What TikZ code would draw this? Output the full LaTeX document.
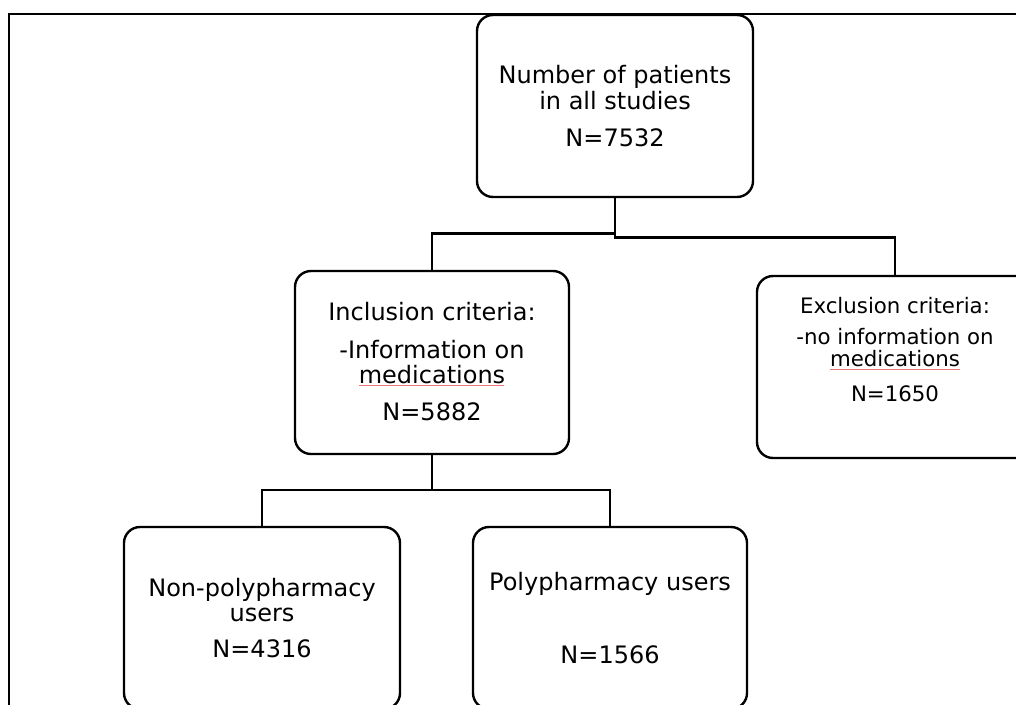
\documentclass[tikz,border=0pt]{standalone}
\usepackage{fontspec}
\setmainfont{DejaVu Sans}
\definecolor{spellred}{RGB}{236,120,120}
\newcommand{\boxtext}[4]{\parbox[c][#1pt][t]{#2pt}{\vspace*{#3pt}\centering #4\par}}
\begin{document}
\begin{tikzpicture}[x=1pt,y=-1pt,
  flowbox/.style={draw, line width=2.4pt, rounded corners=16pt, inner sep=0pt, outer sep=0pt,
    font=\fontsize{24}{26}\selectfont},
  smallbox/.style={flowbox, font=\fontsize{21.3}{23}\selectfont},
  link/.style={draw, line width=2.4pt},
  frameline/.style={draw, line width=1.8pt},
  spell/.style={draw=spellred, line width=0.9pt}]
\useasboundingbox (0,0) rectangle (1016,704);
% outer frame
\draw[frameline] (1017,14.3) -- (9,14.3) -- (9,705);
% boxes
\node[flowbox] (top) at (615,106) {\boxtext{182}{276}{48.3}{\rule{0pt}{20pt}Number of patients\\ in all studies\\[11.2pt] N=7532}};
\node[flowbox] (incl) at (432,362.5) {\boxtext{183}{274}{29.5}{\rule{0pt}{20pt}Inclusion criteria:\\[11.5pt] -Information on\\[-0.7pt] medications\\[11.2pt] N=5882}};
\node[smallbox] (excl) at (895,367) {\boxtext{182}{276}{19}{\rule{0pt}{18pt}Exclusion criteria:\\[8pt] -no information on\\[-1pt] medications\\[12pt] N=1650}};
\node[flowbox] (nonpoly) at (262,618) {\boxtext{182}{276}{49.5}{\rule{0pt}{20pt}Non-polypharmacy\\[-0.8pt] users\\[9.6pt] N=4316}};
\node[flowbox] (poly) at (610,618) {\boxtext{182}{274}{43}{\rule{0pt}{20pt}Polypharmacy users\\[47.3pt] N=1566}};
% connectors
\coordinate (splitA) at (615,233.5);
\coordinate (splitB) at (615,237.5);
\coordinate (splitC) at (432,490);
\draw[link] (top.south) -- (splitB) -| (excl.north);
\draw[link] (splitA) -| (incl.north);
\draw[link] (incl.south) -- (splitC);
\draw[link] (nonpoly.north) -- (nonpoly.north |- splitC) -- (poly.north |- splitC) -- (poly.north);
% spell-check underlines
\draw[spell] (359,385.5) -- (504,385.5);
\draw[spell] (830,369.5) -- (960,369.5);
\end{tikzpicture}
\end{document}
